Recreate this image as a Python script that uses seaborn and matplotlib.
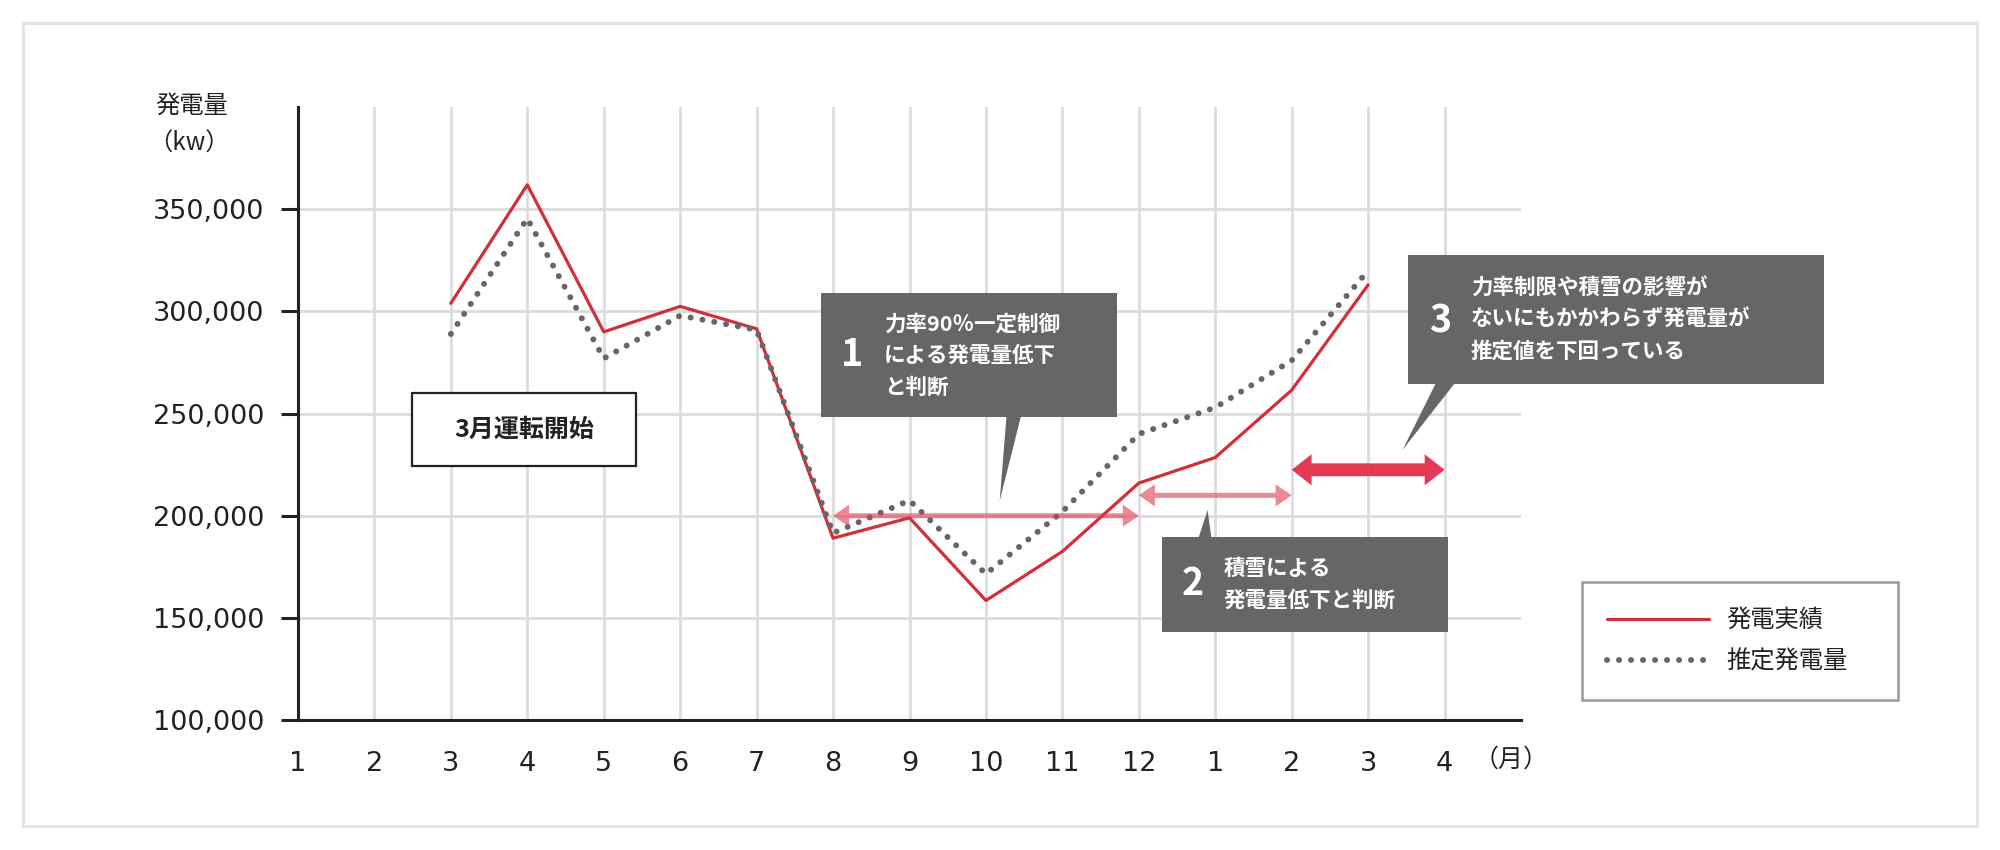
import matplotlib.pyplot as plt
import numpy as np
import pandas as pd
import seaborn as sns
from matplotlib.patches import Polygon, Rectangle


MONTH_LABELS = ["1", "2", "3", "4", "5", "6", "7", "8", "9", "10", "11", "12", "1", "2", "3", "4"]
ACTUAL_KW = [np.nan, np.nan, 304000, 362000, 290000, 302500, 291500, 189000, 199000,
             158500, 182500, 216000, 228500, 261500, 313000, np.nan]
ESTIMATED_KW = [np.nan, np.nan, 289000, 345500, 277000, 298000, 291000, 191500, 207500,
                171500, 202000, 240000, 253000, 276000, 320000, np.nan]
SERIES_NAMES = ["発電実績", "推定発電量"]
Y_TICKS = [100000, 150000, 200000, 250000, 300000, 350000]

# period arrows: start month index, end month index, level (kW)
PERIOD_ARROWS = [(7, 11, 200000), (11, 13, 210000), (13, 15, 222500)]

CALLOUTS = [
    {"num": "1", "text": "力率90％一定制御\nによる発電量低下\nと判断",
     "box": (6.84, 248200, 10.71, 308900), "num_xy": (7.25, 279000), "text_xy": (7.67, 278500),
     "pointer": [(9.27, 249000), (9.46, 249000), (9.18, 207300)]},
    {"num": "2", "text": "積雪による\n発電量低下と判断",
     "box": (11.30, 143200, 15.05, 189600), "num_xy": (11.70, 166800), "text_xy": (12.11, 166300),
     "pointer": [(11.78, 189000), (11.95, 189000), (11.90, 202800)]},
    {"num": "3", "text": "力率制限や積雪の影響が\nないにもかかわらず発電量が\n推定値を下回っている",
     "box": (14.52, 264500, 19.97, 327600), "num_xy": (14.94, 295500), "text_xy": (15.34, 296000),
     "pointer": [(14.89, 265200), (15.14, 265200), (14.45, 232200)]},
]

RED = "#D12F3A"
GRAY = "#666666"
INK = "#222222"

sns.set_theme(style="whitegrid")
plt.rcParams["font.family"] = ["Noto Sans CJK JP", "DejaVu Sans"]

df = pd.DataFrame({"pos": np.arange(len(MONTH_LABELS)), "actual": ACTUAL_KW, "estimate": ESTIMATED_KW})

fig = plt.figure(figsize=(20, 8.5), dpi=100)
fig.patch.set_facecolor("white")
ax = fig.add_axes([0.149, 0.1529, 0.6115, 0.721])
ax.set_facecolor("white")

sns.lineplot(data=df, x="pos", y="actual", color=RED, linewidth=2.3, errorbar=None,
             label=SERIES_NAMES[0], ax=ax, zorder=3)
sns.lineplot(data=df, x="pos", y="estimate", color=GRAY, linewidth=4.3, errorbar=None,
             label=SERIES_NAMES[1], ax=ax, zorder=3)
dotted = ax.get_lines()[-1]
dotted.set_dashes((0.01, 2.0))
dotted.set_dash_capstyle("round")

ax.set_xlim(0, 16)
ax.set_ylim(100000, 400000)
ax.set_xticks(df["pos"])
ax.set_xticklabels(MONTH_LABELS)
ax.set_yticks(Y_TICKS)
ax.set_yticklabels([f"{v:,}" for v in Y_TICKS])
ax.set_xlabel("")
ax.set_ylabel("")
ax.grid(True, color="#dcdcdc", linewidth=2.0)
ax.set_axisbelow(True)
for side in ["top", "right"]:
    ax.spines[side].set_visible(False)
for side in ["left", "bottom"]:
    ax.spines[side].set_color(INK)
    ax.spines[side].set_linewidth(2.2)
ax.tick_params(axis="y", length=12, width=2.2, color=INK, pad=12, labelsize=19.5, labelcolor=INK, left=True)
ax.tick_params(axis="x", length=0, pad=22, labelsize=19.5, labelcolor=INK)
for lab in ax.get_xticklabels() + ax.get_yticklabels():
    lab.set_family(["DejaVu Sans"])

# period arrows (two halves so the translucent fill does not overlap)
for i, (x0, x1, level) in enumerate(PERIOD_ARROWS):
    thick = i == len(PERIOD_ARROWS) - 1
    width, head_w, head_l = (6300, 15200, 0.26) if thick else (2450, 10800, 0.21)
    color, alpha = ("#E2233F", 0.9) if thick else ("#E2394F", 0.6)
    mid = (x0 + x1) / 2
    for end in (x0, x1):
        ax.arrow(mid, level, end - mid, 0, width=width, head_width=head_w, head_length=head_l,
                 length_includes_head=True, color=color, alpha=alpha, lw=0, zorder=4, clip_on=False)

# "3月運転開始" box
ax.add_patch(Rectangle((1.49, 224300), 2.93, 35600, facecolor="white", edgecolor=INK,
                       linewidth=1.6, zorder=5))
ax.text(2.955, 242000, "3月運転開始", ha="center", va="center", fontsize=18,
        fontweight="bold", color=INK, zorder=6)

for c in CALLOUTS:
    x0, y0, x1, y1 = c["box"]
    ax.add_patch(Rectangle((x0, y0), x1 - x0, y1 - y0, facecolor=GRAY, edgecolor="none",
                           zorder=6, clip_on=False))
    ax.add_patch(Polygon(c["pointer"], closed=True, facecolor=GRAY, edgecolor="none",
                         zorder=6, clip_on=False))
    ax.text(*c["num_xy"], c["num"], ha="center", va="center", fontsize=27, fontweight="bold",
            color="white", zorder=7, clip_on=False)
    ax.text(*c["text_xy"], c["text"], ha="left", va="center", fontsize=15.5, fontweight="bold",
            color="white", linespacing=1.62, zorder=7, clip_on=False)

leg = ax.legend(loc="upper left", bbox_to_anchor=(0.7908, 0.1828, 0.1582, 0.133),
                bbox_transform=fig.transFigure, mode="expand", frameon=True, fancybox=False,
                edgecolor="#999999", framealpha=1, fontsize=17.5, handlelength=4.2,
                handletextpad=0.7, labelspacing=0.62, borderpad=1.05, borderaxespad=0)
leg.get_frame().set_linewidth(1.8)
for t in leg.get_texts():
    t.set_color(INK)

fig.text(192 / 2000, 1 - 106 / 850, "発電量", ha="center", va="center", fontsize=17.5, color=INK)
fig.text(189 / 2000, 1 - 144 / 850, "（kw）", ha="center", va="center", fontsize=17.5, color=INK)
fig.text(1511 / 2000, 1 - 760 / 850, "（月）", ha="center", va="center", fontsize=18, color=INK)

fig.add_artist(Rectangle((23 / 2000, 1 - 826 / 850), 1954 / 2000, 803 / 850,
                         transform=fig.transFigure, fill=False, edgecolor="#e4e4e4", linewidth=2.2))

fig.savefig("out.png", dpi=100, facecolor="white")
plt.close(fig)
